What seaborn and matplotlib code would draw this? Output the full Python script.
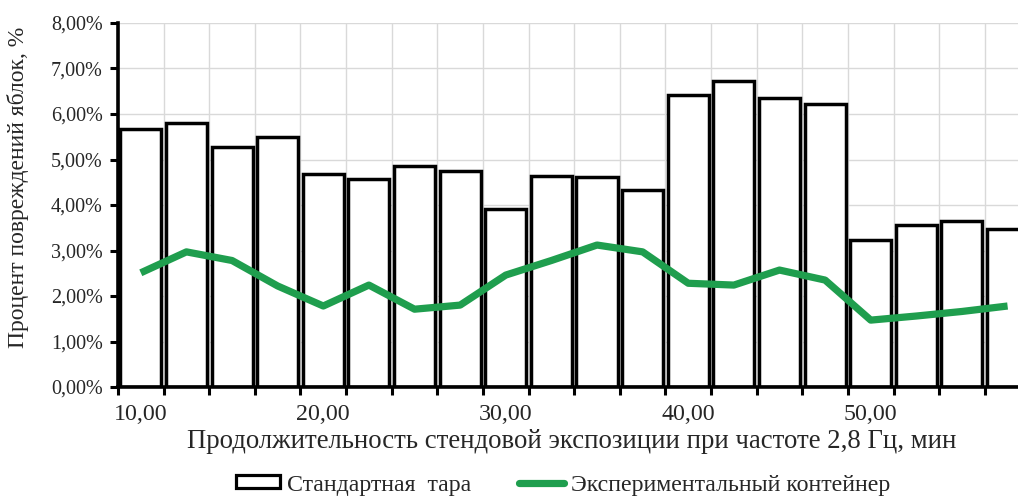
import numpy as np
import pandas as pd
import matplotlib
matplotlib.use("Agg")
import matplotlib.pyplot as plt
import seaborn as sns
from matplotlib.patches import Patch
from matplotlib.lines import Line2D

# ---- data ----
durations = [10.0, 12.5, 15.0, 17.5, 20.0, 22.5, 25.0, 27.5, 30.0, 32.5,
             35.0, 37.5, 40.0, 42.5, 45.0, 47.5, 50.0, 52.5, 55.0, 57.5]
standard = [5.66, 5.81, 5.28, 5.49, 4.68, 4.57, 4.85, 4.75, 3.91, 4.64,
            4.61, 4.34, 6.42, 6.73, 6.35, 6.21, 3.24, 3.55, 3.64, 3.47]
experimental = [2.51, 2.97, 2.78, 2.22, 1.78, 2.24, 1.71, 1.80, 2.46, 2.78,
                3.12, 2.97, 2.28, 2.24, 2.57, 2.35, 1.47, 1.56, 1.66, 1.78]
y_ticks = [0, 1, 2, 3, 4, 5, 6, 7, 8]
label_every = 4
series_names = ["Стандартная  тара", "Экспериментальный контейнер"]
x_title = "Продолжительность стендовой экспозиции при частоте 2,8 Гц, мин"
y_title = "Процент повреждений яблок, %"

sns.set_theme(style="white")
plt.rcParams["font.family"] = ["Liberation Serif", "DejaVu Serif"]

df = pd.DataFrame({
    "cat": [f"{d:.2f}".replace(".", ",") for d in durations],
    "standard": [v / 100 for v in standard],
    "experimental": [v / 100 for v in experimental],
})

W, H = 1018, 497
fig = plt.figure(figsize=(W / 100, H / 100), dpi=100)
left_px, right_px, top_px, bottom_px = 118, 118 + 20 * 45.62, 23, 387
ax = fig.add_axes([left_px / W, 1 - bottom_px / H,
                   (right_px - left_px) / W, (bottom_px - top_px) / H])

green = "#1f9e4e"
sns.barplot(data=df, x="cat", y="standard", ax=ax, color="white",
            edgecolor="black", linewidth=2.5, width=0.9, saturation=1,
            zorder=3)
sns.lineplot(x=np.arange(len(df)), y=df["experimental"], ax=ax, color=green,
             linewidth=5.2, zorder=4, solid_capstyle="butt")

ax.set_xlim(-0.5, len(df) - 0.5)
ax.set_ylim(0, 0.08)

# y axis
ax.set_yticks([t / 100 for t in y_ticks])
ax.set_yticklabels([f"{t:.2f}".replace(".", ",") + "%" for t in y_ticks],
                   fontsize=14.5)
# x axis: major ticks at category boundaries, labels at every 4th center
ax.set_xticks(np.arange(-0.5, len(df), 1.0))
ax.set_xticklabels([])
ax.set_xticks([i for i in range(0, len(df), label_every)], minor=True)
ax.set_xticklabels([df["cat"][i] for i in range(0, len(df), label_every)],
                   minor=True, fontsize=17.3)
ax.tick_params(axis="x", which="minor", length=0, pad=12)
ax.tick_params(axis="x", which="major", length=6, width=2.2, color="black",
               direction="out", bottom=True)
ax.tick_params(axis="y", length=6, width=2.2, color="black", direction="out",
               left=True, pad=5)

ax.grid(True, which="major", axis="both", color="#d9d9d9", linewidth=1.0,
        zorder=0)
ax.set_axisbelow(True)
for s in ["top", "right"]:
    ax.spines[s].set_visible(False)
for s in ["left", "bottom"]:
    ax.spines[s].set_color("black")
    ax.spines[s].set_linewidth(2.6)
    ax.spines[s].set_zorder(5)
ax.set_xlabel("")
ax.set_ylabel("")

fig.text(572 / W, 1 - 441 / H, x_title, ha="center", va="center",
         fontsize=19.3)
fig.text(18 / W, 1 - 187 / H, y_title, ha="center", va="center",
         rotation=90, fontsize=17)

handles = [Patch(facecolor="white", edgecolor="black", linewidth=2.3),
           Line2D([0], [0], color=green, linewidth=5.2)]
fig.legend(handles, series_names, loc="center", ncol=2, frameon=False,
           bbox_to_anchor=(563 / W, 1 - 485 / H), fontsize=17.2,
           handlelength=1.88, handleheight=0.46, handletextpad=0.29,
           columnspacing=2.0, borderpad=0)

fig.savefig("out.png", dpi=100)
